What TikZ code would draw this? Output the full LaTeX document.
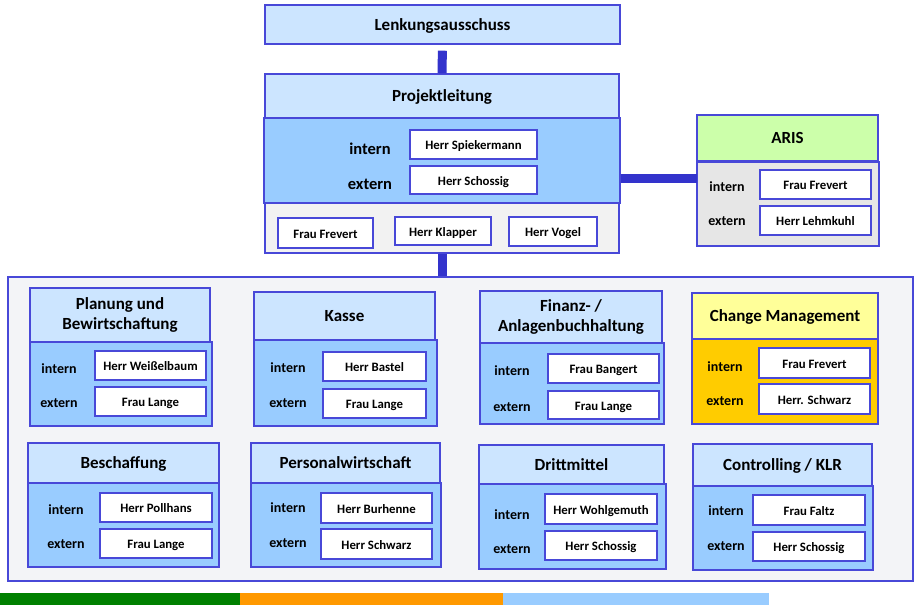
\documentclass[tikz,border=0pt]{standalone}
\usepackage{fontspec}
\setmainfont{Carlito}
\begin{document}
\definecolor{bordc}{RGB}{72,72,216}
\definecolor{connc}{RGB}{51,51,204}
\definecolor{hdrc}{RGB}{204,229,255}
\definecolor{bodyc}{RGB}{153,204,255}
\definecolor{greyc}{RGB}{242,242,242}
\definecolor{arishc}{RGB}{204,255,170}
\definecolor{arisbc}{RGB}{230,230,230}
\definecolor{contc}{RGB}{243,244,247}
\definecolor{cmhc}{RGB}{255,255,153}
\definecolor{cmbc}{RGB}{255,204,0}
\definecolor{bargreen}{RGB}{0,128,0}
\definecolor{barorange}{RGB}{255,153,0}
\definecolor{barblue}{RGB}{153,204,255}
% box from (x1,y1) to (x2,y2) in pixel units, y downwards
\newcommand{\ubox}[7]{\node[#1,minimum width={(#4-#2)*1pt},minimum height={(#5-#3)*1pt}] (#6) at ({(#2+#4)/2},{(#3+#5)/2}) {#7};}
\begin{tikzpicture}[x=1pt,y=-1pt,
  frame/.style={draw=bordc,line width=1.4pt,inner sep=0pt,align=center},
  header2/.style={frame,fill=hdrc,font=\bfseries\fontsize{17}{20}\selectfont},
  header/.style={header2,text height=15.2pt,text depth=4.2pt},
  unitbody/.style={frame,fill=bodyc},
  namebox/.style={frame,fill=white,text height=13pt,text depth=3pt,
    font=\bfseries\fontsize{12.8}{14}\selectfont},
  rolelbl/.style={inner sep=0pt,font=\bfseries\fontsize{14}{16}\selectfont},
  conn/.style={draw=connc,line width=9pt}]
\useasboundingbox (0,0) rectangle (924,605);

% steering committee and project management
\ubox{header}{265}{5}{620}{44}{lenk}{Lenkungsausschuss}
\ubox{unitbody}{264}{118}{620}{203}{plbody}{}
\ubox{header}{265}{74}{619}{118}{plhead}{Projektleitung}
\ubox{frame,fill=greyc}{265}{203}{619}{253}{plteam}{}
\node[rolelbl,font=\bfseries\fontsize{16.5}{18}\selectfont] (plint) at (370,149) {intern};
\node[rolelbl,font=\bfseries\fontsize{16.5}{18}\selectfont] (plext) at (370,184) {extern};
\ubox{namebox}{410}{130}{537}{159}{pln1}{Herr Spiekermann}
\ubox{namebox}{410}{166}{537}{194}{pln2}{Herr Schossig}
\ubox{namebox}{278}{218}{373}{248}{plt1}{Frau Frevert}
\ubox{namebox}{395}{217}{491}{245}{plt2}{Herr Klapper}
\ubox{namebox}{509}{217}{597}{246}{plt3}{Herr Vogel}

% ARIS
\ubox{frame,fill=arisbc}{697}{162}{879}{246}{arisbody}{}
\ubox{header,fill=arishc}{697}{115}{878}{161}{arishead}{ARIS}
\node[rolelbl] (arisint) at (727,187) {intern};
\node[rolelbl] (arisext) at (727,221) {extern};
\ubox{namebox}{760}{170}{871}{199}{arisn1}{Frau Frevert}
\ubox{namebox}{760}{206}{871}{235}{arisn2}{Herr Lehmkuhl}

% container of the work packages
\ubox{frame,fill=contc}{8}{277}{913}{581}{cont}{}

% connectors
\coordinate (arisjoin) at (697,178);
\draw[conn,shorten <=6pt] (lenk.south) -- (plhead.north);
\draw[conn] (plbody.east |- arisjoin) -- (arisjoin);
\draw[conn] (plteam.south) -- (cont.north -| plteam.south);

% work package: body box first, head box on top
% #1 name, #2-#5 head, #6 body bottom, #7 body right, #8 title, #9 head style
\newcommand{\unit}[9]{%
  \ubox{unitbody}{#2}{#5}{#7}{#6}{#1body}{}
  \ubox{#9}{#2}{#3}{#4}{#5}{#1head}{#8}}

\unit{plan}{30}{288}{210}{342}{426}{212}{Planung und\\Bewirtschaftung}{header2}
\node[rolelbl] (planint) at (59,369) {intern};
\node[rolelbl] (planext) at (59,403) {extern};
\ubox{namebox}{95}{351}{206}{380}{plann1}{Herr Weißelbaum}
\ubox{namebox}{95}{387}{206}{416}{plann2}{Frau Lange}

\unit{kasse}{254}{292}{435}{340}{426}{437}{Kasse}{header}
\node[rolelbl] (kasseint) at (288,368) {intern};
\node[rolelbl] (kasseext) at (288,403) {extern};
\ubox{namebox}{323}{352}{426}{381}{kassen1}{Herr Bastel}
\ubox{namebox}{323}{389}{426}{418}{kassen2}{Frau Lange}

\unit{fin}{480}{291}{662}{343}{424}{664}{Finanz- /\\Anlagenbuchhaltung}{header2}
\node[rolelbl] (finint) at (512,371) {intern};
\node[rolelbl] (finext) at (512,407) {extern};
\ubox{namebox}{548}{354}{659}{383}{finn1}{Frau Bangert}
\ubox{namebox}{548}{391}{659}{419}{finn2}{Frau Lange}

\ubox{frame,fill=cmbc}{692}{339}{878}{424}{cmbody}{}
\ubox{header,fill=cmhc}{692}{293}{878}{339}{cmhead}{Change Management}
\node[rolelbl] (cmint) at (725,367) {intern};
\node[rolelbl] (cmext) at (725,401) {extern};
\ubox{namebox}{759}{348}{870}{378}{cmn1}{Frau Frevert}
\ubox{namebox}{759}{384}{870}{414}{cmn2}{Herr. Schwarz}

\unit{besch}{28}{443}{219}{483}{567}{219}{Beschaffung}{header}
\node[rolelbl] (beschint) at (66,510) {intern};
\node[rolelbl] (beschext) at (66,544) {extern};
\ubox{namebox}{100}{493}{212}{522}{beschn1}{Herr Pollhans}
\ubox{namebox}{100}{529}{212}{558}{beschn2}{Frau Lange}

\unit{pers}{251}{443}{440}{483}{567}{441}{Personalwirtschaft}{header}
\node[rolelbl] (persint) at (288,508) {intern};
\node[rolelbl] (persext) at (288,543) {extern};
\ubox{namebox}{321}{493}{432}{523}{persn1}{Herr Burhenne}
\ubox{namebox}{321}{529}{432}{559}{persn2}{Herr Schwarz}

\unit{dritt}{479}{445}{664}{484}{569}{666}{Drittmittel}{header}
\node[rolelbl] (drittint) at (512,515) {intern};
\node[rolelbl] (drittext) at (512,549) {extern};
\ubox{namebox}{545}{494}{657}{524}{drittn1}{Herr Wohlgemuth}
\ubox{namebox}{545}{531}{657}{560}{drittn2}{Herr Schossig}

\unit{ctrl}{693}{444}{872}{486}{570}{873}{Controlling / KLR}{header}
\node[rolelbl] (ctrlint) at (726,511) {intern};
\node[rolelbl] (ctrlext) at (726,546) {extern};
\ubox{namebox}{753}{495}{865}{525}{ctrln1}{Frau Faltz}
\ubox{namebox}{753}{532}{865}{561}{ctrln2}{Herr Schossig}

% colour band along the bottom edge
\fill[bargreen] (0,593) rectangle (240,605);
\fill[barorange] (240,593) rectangle (503,605);
\fill[barblue] (503,593) rectangle (769,605);
\end{tikzpicture}
\end{document}
